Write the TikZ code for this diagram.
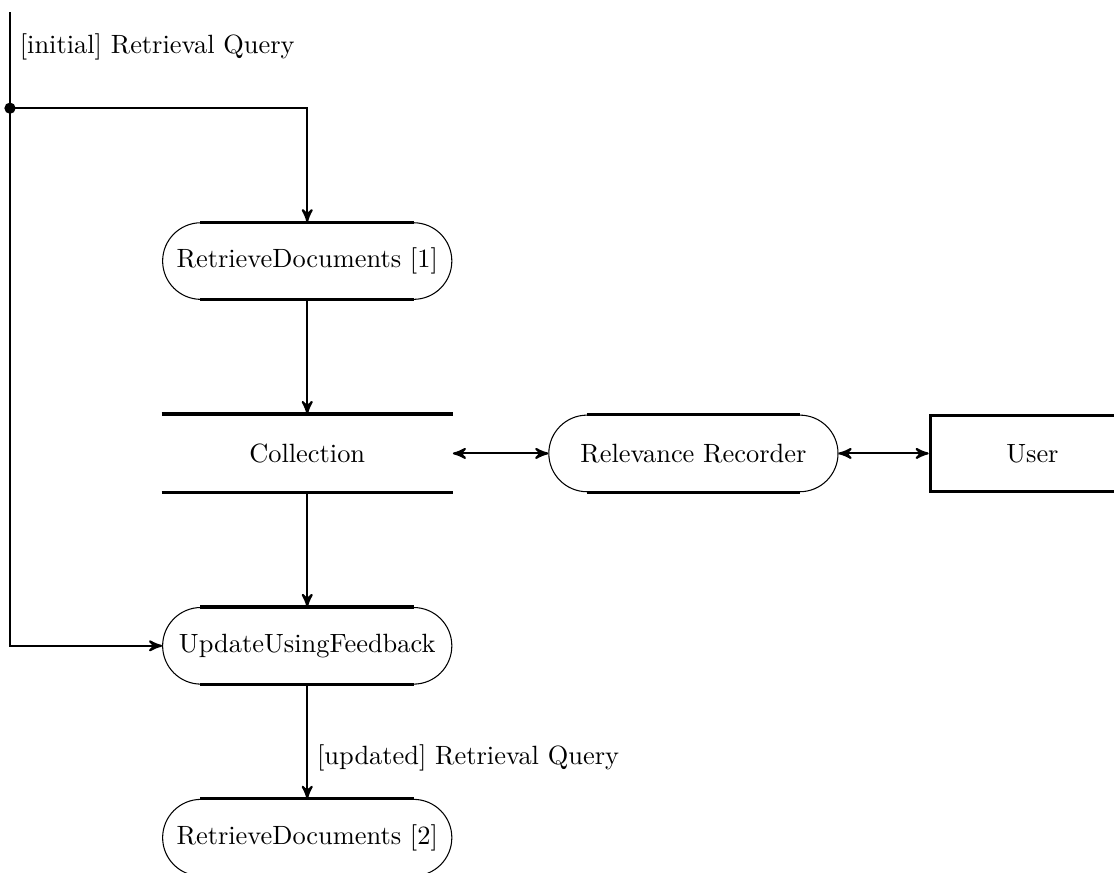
\documentclass[tikz,border=0pt]{standalone}
\usepackage{tikz}
\usetikzlibrary{arrows,positioning}

\begin{document}
\begin{tikzpicture}[->,>=stealth',thick,node distance=1.52cm and 1.27cm,
  bar/.style={-,very thick,sharp corners},
  process/.style={draw,thin,rounded corners=0.51cm,minimum width=3.85cm,minimum height=1.02cm,
    append after command={([xshift=0.51cm]\tikzlastnode.north west) edge[bar] ([xshift=-0.51cm]\tikzlastnode.north east)
      ([xshift=0.51cm]\tikzlastnode.south west) edge[bar] ([xshift=-0.51cm]\tikzlastnode.south east)}},
  store/.style={minimum width=3.85cm,minimum height=1.02cm,
    append after command={(\tikzlastnode.north west) edge[bar] (\tikzlastnode.north east)
      (\tikzlastnode.south west) edge[bar] (\tikzlastnode.south east)}},
  entity/.style={draw,very thick,minimum width=2.72cm,minimum height=1.02cm}]

  \useasboundingbox (0,0) rectangle (14.83,-11.62);

  \node[process] (rd1) at (4.09,-3.475) {RetrieveDocuments [1]};
  \node[store] (coll) [below=of rd1] {Collection};
  \node[process] (rr) [right=of coll] {Relevance Recorder};
  \node[entity] (user) [right=1.2cm of rr] {User};
  \node[process] (uuf) [below=of coll] {UpdateUsingFeedback};
  \node[process] (rd2) [below=of uuf] {RetrieveDocuments [2]};

  % query comes in from the top
  \coordinate (start) at (0.133,-0.16);
  \coordinate (split) at (0.133,-1.44);

  \draw[-] (start) -- node[right,pos=0.36] {[initial] Retrieval Query} (split);
  \fill (split) circle (0.075);
  \draw (split) -| (rd1);
  \draw (split) |- (uuf);

  \draw (rd1) -- (coll);
  \draw[<->] (coll) -- (rr);
  \draw[<->] (rr) -- (user);
  \draw (coll) -- (uuf);
  \draw (uuf) -- node[right,pos=0.64] {[updated] Retrieval Query} (rd2);
\end{tikzpicture}
\end{document}
